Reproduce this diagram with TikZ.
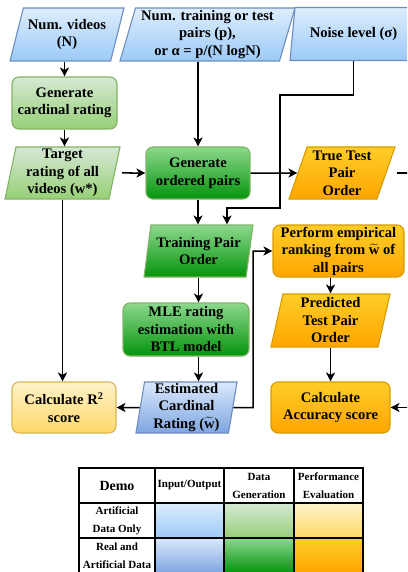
\documentclass[tikz,border=0pt]{standalone}
\usepackage{amsmath}
\usepackage{fontspec}
\setmainfont{Liberation Serif}
\usetikzlibrary{shapes.geometric,arrows.meta,calc}
\definecolor{lbTop}{HTML}{DDEDFC}
\definecolor{lbBot}{HTML}{9CCAF8}
\definecolor{bTop}{HTML}{DAE8FC}
\definecolor{bBot}{HTML}{7EA6E0}
\definecolor{bLine}{HTML}{6C8EBF}
\definecolor{lgTop}{HTML}{D5E8D4}
\definecolor{lgBot}{HTML}{97D077}
\definecolor{gLine}{HTML}{82B366}
\definecolor{dgTop}{HTML}{8CD88C}
\definecolor{dgBot}{HTML}{04940C}
\definecolor{yTop}{HTML}{FFF2CC}
\definecolor{yBot}{HTML}{FFD966}
\definecolor{yLine}{HTML}{D6B656}
\definecolor{oTop}{HTML}{FFCD28}
\definecolor{oBot}{HTML}{FFA500}
\definecolor{oLine}{HTML}{D79B00}
\newcommand{\wtil}{\smash{$\widetilde{\text{w}}$}}
\begin{document}
\begin{tikzpicture}[x=1pt,y=-1pt,
  base/.style={font=\fontsize{14.6}{17.5}\selectfont\bfseries, align=center, inner sep=0pt, line width=1.1pt},
  proc/.style={base, rectangle, rounded corners=7pt},
  io/.style 2 args={base, trapezium, trapezium stretches body, trapezium left angle=#1, trapezium right angle=#2},
  clb/.style={top color=lbTop, bottom color=lbBot, draw=bLine},
  cb/.style={top color=bTop, bottom color=bBot, draw=bLine},
  clg/.style={top color=lgTop, bottom color=lgBot, draw=gLine},
  cdg/.style={top color=dgTop, bottom color=dgBot, draw=gLine},
  cy/.style={top color=yTop, bottom color=yBot, draw=yLine},
  co/.style={top color=oTop, bottom color=oBot, draw=oLine},
  arr/.style={line width=1.5pt, -{Stealth[length=9pt,width=9pt,inset=2.5pt]}},
  cell/.style={draw=black, line width=2pt, inner sep=0pt, align=center, font=\fontsize{11}{18}\selectfont\bfseries, minimum height=35pt}
]
\useasboundingbox (0,0) rectangle (407,572);
\clip (0,0) rectangle (407,572);

% top inputs
\node[io={66.5}{113.5}, clb, minimum width=114pt, minimum height=53pt] (vid) at (67,34.5) {Num. videos\\(N)};
\node[io={72.2}{107.8}, clb, minimum width=175pt, minimum height=53pt] (pairs) at (207.5,34.5) {Num. training or test\\pairs (p),\\or α = p/(N logN)};
\node[io={69.3}{110.7}, clb, minimum width=127pt, minimum height=53pt] (noise) at (353.5,34) {Noise level (σ)};

% left column
\node[proc, clg, minimum width=105pt, minimum height=52pt] (gencard) at (64.5,103) {Generate\\cardinal rating};
\node[io={77}{103}, clg, minimum width=115pt, minimum height=52pt] (target) at (62.5,173) {Target\\rating of all\\videos (w*)};
\node[proc, cy, minimum width=104pt, minimum height=51pt] (r2) at (64,407.5) {Calculate R\textsuperscript{2}\\score};

% middle column
\node[proc, cdg, minimum width=104pt, minimum height=52pt] (genpairs) at (198,173) {Generate\\ordered pairs};
\node[io={76}{104}, cdg, minimum width=109pt, minimum height=52pt] (training) at (198.5,251) {Training Pair\\Order};
\node[proc, cdg, minimum width=126pt, minimum height=53pt] (mle) at (186,329.5) {MLE rating\\estimation with\\BTL model};
\node[io={80}{100}, cb, minimum width=101pt, minimum height=51pt] (est) at (186.5,407.5) {Estimated\\Cardinal\\Rating (\wtil)};

% right column
\node[io={68}{112}, co, minimum width=106pt, minimum height=52pt] (truetest) at (342,173) {True Test\\Pair\\Order};
\node[proc, co, minimum width=131pt, minimum height=52pt] (perform) at (338.5,251) {Perform empirical\\ranking from \wtil{} of\\all pairs};
\node[io={75.2}{104.8}, co, minimum width=119pt, minimum height=53pt] (predicted) at (330.5,320.5) {Predicted\\Test Pair\\Order};
\node[proc, co, minimum width=119pt, minimum height=51pt] (acc) at (330.5,407.5) {Calculate\\Accuracy score};

% helper coordinates
\coordinate (rim) at (425,0);
\coordinate (n1) at (280,95);
\coordinate (n2) at (227,208);
\coordinate (e1) at (253,407.5);

% connectors
\draw[arr] (gencard.north |- vid.south) -- (gencard.north);
\draw[arr] (gencard.south) -- (gencard.south |- target.north);
\draw[arr, shorten <=7pt] (target.east) -- (genpairs.west);
\draw[arr] (genpairs.east) -- (truetest.west);
\draw[line width=1.5pt, shorten <=10pt] (truetest.east) -- (truetest.east -| rim);
\draw[arr] (genpairs.north |- pairs.south) -- (genpairs.north);
\draw[arr] (noise.south) |- (n1) |- (n2) -- (n2 |- training.north);
\draw[arr] (genpairs.south) -- (genpairs.south |- training.north);
\draw[arr] (training.south) -- (training.south |- mle.north);
\draw[arr] (training.south |- mle.south) -- (training.south |- est.north);
\draw[arr] (est.west) -- (r2.east);
\draw[arr] (target.south) -- (target.south |- r2.north);
\draw[arr] (est.east) -- (e1) |- (perform.west);
\draw[arr] (predicted.north |- perform.south) -- (predicted.north);
\draw[arr] (predicted.south) -- (predicted.south |- acc.north);
\draw[arr] (acc.east -| rim) -- (acc.east);

% legend table
\node[cell, minimum width=76pt, font=\fontsize{14}{18}\selectfont\bfseries] (h1) at (117,485.5) {Demo};
\node[cell, minimum width=69pt] (h2) at (189.5,485.5) {Input/Output};
\node[cell, minimum width=70pt] (h3) at (259,485.5) {Data\\Generation};
\node[cell, minimum width=69pt] (h4) at (328.5,485.5) {Performance\\Evaluation};
\node[cell, minimum width=76pt] (a1) at (117,520.5) {Artificial\\Data Only};
\node[cell, clb, draw=black, minimum width=69pt] (a2) at (189.5,520.5) {};
\node[cell, clg, draw=black, minimum width=70pt] (a3) at (259,520.5) {};
\node[cell, cy, draw=black, minimum width=69pt] (a4) at (328.5,520.5) {};
\node[cell, minimum width=76pt] (r1) at (117,555.5) {Real and\\Artificial Data};
\node[cell, cb, draw=black, minimum width=69pt] (rr2) at (189.5,555.5) {};
\node[cell, cdg, draw=black, minimum width=70pt] (rr3) at (259,555.5) {};
\node[cell, co, draw=black, minimum width=69pt] (rr4) at (328.5,555.5) {};
\end{tikzpicture}
\end{document}
